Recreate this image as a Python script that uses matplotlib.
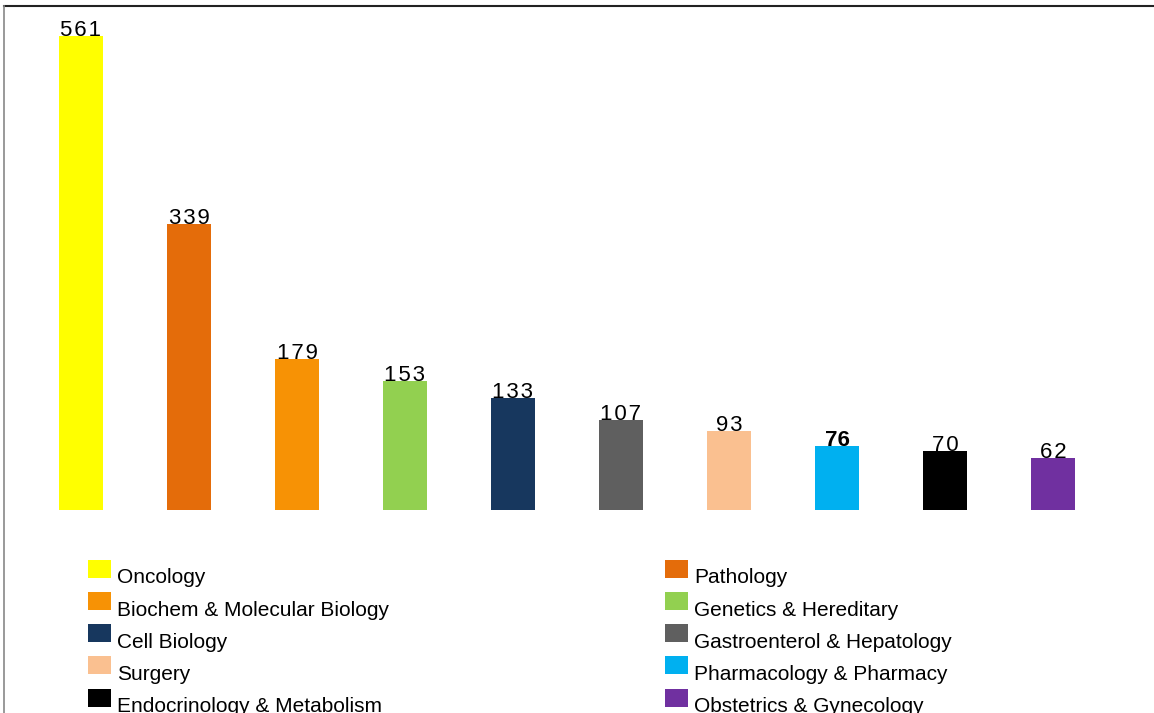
import matplotlib
matplotlib.use("Agg")
import matplotlib.pyplot as plt
from matplotlib.patches import Patch, Rectangle
from matplotlib.lines import Line2D
from matplotlib.legend_handler import HandlerPatch

plt.rcParams['font.family'] = ['Liberation Sans', 'DejaVu Sans']

categories = ["Oncology", "Pathology", "Biochem & Molecular Biology",
              "Genetics & Hereditary", "Cell Biology", "Gastroenterol & Hepatology",
              "Surgery", "Pharmacology & Pharmacy", "Endocrinology & Metabolism",
              "Obstetrics & Gynecology"]
counts = [561, 339, 179, 153, 133, 107, 93, 76, 70, 62]
colors = ["#FFFF00", "#E46C0A", "#F79205", "#92D050", "#17375E",
          "#5F5F5F", "#FAC090", "#00B0F0", "#000000", "#7030A0"]
bold_labels = [False, False, False, False, False, False, False, True, False, False]

W, H = 1154, 713
fig = plt.figure(figsize=(W / 100, H / 100), dpi=100)

# bars
ax = fig.add_axes([27 / W, (H - 510) / H, 1080 / W, 474 / H])
x = range(len(counts))
ax.bar(x, counts, width=0.41, color=colors)
ax.set_xlim(-0.5, len(counts) - 0.5)
ax.set_ylim(0, max(counts))
ax.axis("off")

for i, v in enumerate(counts):
    if bold_labels[i]:
        ax.text(i, v, str(v), ha="center", va="baseline", fontsize=16,
                fontweight="bold", clip_on=False)
    else:
        ax.text(i, v, "\u200a".join(str(v)), ha="center", va="baseline",
                fontsize=16, clip_on=False)


# legend swatches sit a little higher than their labels
def raised_box(legend, orig_handle, xdescent, ydescent, width, height, fontsize):
    return Rectangle((-xdescent, -ydescent + 5.4), width, height)


handles = [Patch(facecolor=c, edgecolor="none") for c in colors]
left = list(range(0, len(categories), 2))
right = list(range(1, len(categories), 2))
legend_kw = dict(frameon=False, fontsize=15, handlelength=1.1, handleheight=0.96,
                 handletextpad=0.29, labelspacing=0.58, borderpad=0, borderaxespad=0,
                 loc="upper left", handler_map={Patch: HandlerPatch(patch_func=raised_box)})
leg1 = fig.legend([handles[i] for i in left], [categories[i] for i in left],
                  bbox_to_anchor=(88 / W, (H - 567) / H), **legend_kw)
leg2 = fig.legend([handles[i] for i in right], [categories[i] for i in right],
                  bbox_to_anchor=(665 / W, (H - 567) / H), **legend_kw)

# outer frame: top and left edges
fig.add_artist(Line2D([4 / W, 1], [(H - 6) / H, (H - 6) / H], color="#222222", lw=1.5))
fig.add_artist(Line2D([4 / W, 4 / W], [0, (H - 6) / H], color="#888888", lw=1.2))

fig.savefig("out.png", dpi=100)
